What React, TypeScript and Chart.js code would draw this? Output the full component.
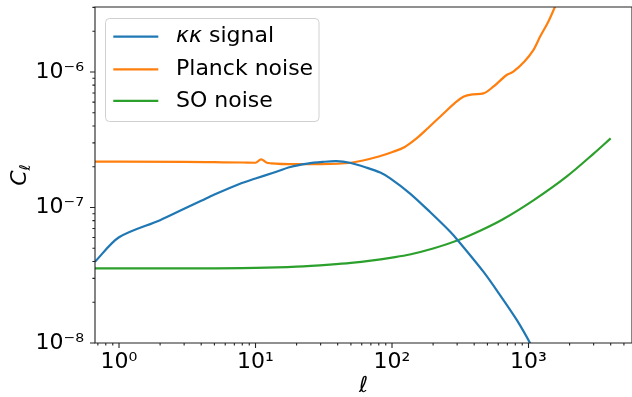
import React, { useEffect, useRef } from 'react';
import { Chart, registerables } from 'chart.js';

Chart.register(...registerables);

// ---- data ----
const seriesLabels = ['κκ signal', 'Planck noise', 'SO noise'];
const seriesColors = ['#1f77b4', '#ff7f0e', '#2ca02c'];

const ellSignal = [0.667, 1, 2, 3, 4, 5, 7.7, 10, 13.5, 18, 24, 31, 39, 49, 65, 82, 97, 135, 190, 266, 305, 467, 618, 820, 1026, 1321];
const clSignal = [3.98e-8, 6.03e-8, 8.07e-8, 9.78e-8, 1.12e-7, 1.247e-7, 1.5e-7, 1.637e-7, 1.807e-7, 1.993e-7, 2.11e-7, 2.17e-7, 2.2e-7, 2.14e-7, 1.97e-7, 1.81e-7, 1.64e-7, 1.273e-7, 9.26e-8, 6.65e-8, 5.69e-8, 3.36e-8, 2.26e-8, 1.48e-8, 1.0e-8, 6.1e-9];

const ellPlanck = [0.667, 1, 3, 5, 8, 10, 11, 12, 13, 20, 30, 50, 80, 102, 124, 152, 183, 225, 333, 394, 467, 552, 692, 774, 1085, 1214, 1396, 1563, 1800];
const clPlanck = [2.18e-7, 2.18e-7, 2.17e-7, 2.16e-7, 2.15e-7, 2.14e-7, 2.27e-7, 2.15e-7, 2.12e-7, 2.09e-7, 2.09e-7, 2.14e-7, 2.38e-7, 2.58e-7, 2.8e-7, 3.25e-7, 3.85e-7, 4.68e-7, 6.57e-7, 6.85e-7, 6.96e-7, 7.79e-7, 9.51e-7, 1.005e-6, 1.45e-6, 1.82e-6, 2.35e-6, 3.03e-6, 4.2e-6];

const ellSO = [0.667, 1, 3, 10, 20, 35, 50, 70, 100, 135, 200, 300, 450, 650, 1100, 1900, 3000, 4000];
const clSO = [3.55e-8, 3.55e-8, 3.55e-8, 3.58e-8, 3.66e-8, 3.79e-8, 3.9e-8, 4.05e-8, 4.27e-8, 4.5e-8, 4.98e-8, 5.7e-8, 6.8e-8, 8.2e-8, 1.14e-7, 1.69e-7, 2.5e-7, 3.24e-7];

// ---- axes ----
const xMin = 0.667;
const xMax = 5730;
const yMin = 1e-8;
const yMax = 3.02e-6;

const xMajorTicks = [1, 10, 100, 1000];
const xMajorLabels = ['10⁰', '10¹', '10²', '10³'];
const xMinorTicks = [0.7, 0.8, 0.9, 2, 3, 4, 5, 6, 7, 8, 9, 20, 30, 40, 50, 60, 70, 80, 90, 200, 300, 400, 500, 600, 700, 800, 900, 2000, 3000, 4000, 5000];

const yMajorTicks = [1e-8, 1e-7, 1e-6];
const yMajorLabels = ['10⁻⁸', '10⁻⁷', '10⁻⁶'];
const yMinorTicks = [2e-8, 3e-8, 4e-8, 5e-8, 6e-8, 7e-8, 8e-8, 9e-8, 2e-7, 3e-7, 4e-7, 5e-7, 6e-7, 7e-7, 8e-7, 9e-7, 2e-6, 3e-6];

const xTitle = 'ℓ';
const yTitleMain = 'C';
const yTitleSub = 'ℓ';

const FONT = 'DejaVu Sans';

const toPoints = (xs: number[], ys: number[]) => xs.map((x, i) => ({ x, y: ys[i] }));

const spinesTicksPlugin = {
  id: 'spinesTicks',
  afterDatasetsDraw(chart: any) {
    const { ctx, chartArea: a, scales } = chart;
    ctx.save();
    ctx.strokeStyle = '#222';
    ctx.lineWidth = 1.1;
    ctx.beginPath();
    ctx.rect(a.left, a.top, a.right - a.left, a.bottom - a.top);
    ctx.stroke();
    ctx.beginPath();
    const xs = scales.x;
    xs.ticks.forEach((t: any) => {
      const px = xs.getPixelForValue(t.value);
      const len = xMajorTicks.includes(t.value) ? 5 : 2.6;
      ctx.moveTo(px, a.bottom);
      ctx.lineTo(px, a.bottom + len);
    });
    const ys = scales.y;
    ys.ticks.forEach((t: any) => {
      const py = ys.getPixelForValue(t.value);
      const len = yMajorTicks.includes(t.value) ? 5 : 2.6;
      ctx.moveTo(a.left, py);
      ctx.lineTo(a.left - len, py);
    });
    ctx.stroke();

    // y-axis title: C with subscript ell
    const cy = (a.top + a.bottom) / 2;
    ctx.translate(26, cy);
    ctx.rotate(-Math.PI / 2);
    ctx.fillStyle = '#000';
    ctx.textBaseline = 'alphabetic';
    ctx.textAlign = 'left';
    ctx.font = `italic 22px "${FONT}"`;
    const wMain = ctx.measureText(yTitleMain).width;
    ctx.font = `italic 15px "${FONT}"`;
    const wSub = ctx.measureText(yTitleSub).width;
    const x0 = -(wMain + wSub) / 2;
    ctx.font = `italic 22px "${FONT}"`;
    ctx.fillText(yTitleMain, x0, 0);
    ctx.font = `italic 15px "${FONT}"`;
    ctx.fillText(yTitleSub, x0 + wMain, 4);
    ctx.restore();
  },
};

const legendPlugin = {
  id: 'mplLegend',
  afterDraw(chart: any) {
    const { ctx } = chart;
    const x0 = 105.5, y0 = 18.5, w = 213.5, h = 103, r = 4;
    ctx.save();
    ctx.beginPath();
    ctx.moveTo(x0 + r, y0);
    ctx.arcTo(x0 + w, y0, x0 + w, y0 + h, r);
    ctx.arcTo(x0 + w, y0 + h, x0, y0 + h, r);
    ctx.arcTo(x0, y0 + h, x0, y0, r);
    ctx.arcTo(x0, y0, x0 + w, y0, r);
    ctx.closePath();
    ctx.fillStyle = 'rgba(255,255,255,0.8)';
    ctx.fill();
    ctx.strokeStyle = '#d0d0d0';
    ctx.lineWidth = 1;
    ctx.stroke();
    const rows = [36.7, 69.3, 100.8];
    chart.data.datasets.forEach((ds: any, i: number) => {
      const y = rows[i];
      ctx.beginPath();
      ctx.strokeStyle = ds.borderColor;
      ctx.lineWidth = 2.2;
      ctx.moveTo(113.3, y);
      ctx.lineTo(158.3, y);
      ctx.stroke();
      ctx.fillStyle = '#000';
      ctx.textBaseline = 'middle';
      ctx.textAlign = 'left';
      let x = 176;
      const label: string = ds.label;
      const runs: { t: string; it: boolean }[] = [];
      for (const ch of label) {
        const it = /[\u0370-\u03ff]/.test(ch);
        if (runs.length && runs[runs.length - 1].it === it) runs[runs.length - 1].t += ch;
        else runs.push({ t: ch, it });
      }
      runs.forEach((run) => {
        ctx.font = `${run.it ? 'italic ' : ''}22px "${FONT}"`;
        ctx.fillText(run.t, x, y);
        x += ctx.measureText(run.t).width;
      });
    });
    ctx.restore();
  },
};

export default function App() {
  const canvasRef = useRef<HTMLCanvasElement | null>(null);

  useEffect(() => {
    const canvas = canvasRef.current;
    if (!canvas) return;
    const chart = new Chart(canvas, {
      type: 'line',
      data: {
        datasets: [
          {
            label: seriesLabels[0],
            data: toPoints(ellSignal, clSignal),
            borderColor: seriesColors[0],
            cubicInterpolationMode: 'default',
            tension: 0.3,
          },
          { label: seriesLabels[1], data: toPoints(ellPlanck, clPlanck), borderColor: seriesColors[1] },
          { label: seriesLabels[2], data: toPoints(ellSO, clSO), borderColor: seriesColors[2] },
        ] as any,
      },
      options: {
        animation: false,
        responsive: false,
        devicePixelRatio: 1,
        layout: { padding: { top: 7, right: 0, left: 0, bottom: 0 } },
        elements: {
          point: { radius: 0, hoverRadius: 0 },
          line: { borderWidth: 2.2, cubicInterpolationMode: 'monotone', fill: false, borderJoinStyle: 'round' },
        },
        datasets: { line: { clip: 0 } } as any,
        plugins: { legend: { display: false }, tooltip: { enabled: false } },
        events: [],
        scales: {
          x: {
            type: 'logarithmic',
            min: xMin,
            max: xMax,
            afterFit: (s: any) => {
              s.height = 54;
              s.paddingLeft = 0; s.paddingRight = 0; s.paddingTop = 0; s.paddingBottom = 0;
            },
            afterBuildTicks: (s: any) => {
              s.ticks = [...xMajorTicks, ...xMinorTicks].sort((a, b) => a - b).map((v) => ({ value: v }));
            },
            grid: { display: false, drawTicks: false },
            border: { display: false },
            ticks: {
              autoSkip: false,
              maxRotation: 0,
              padding: 6,
              color: '#000',
              font: { family: FONT, size: 22 },
              callback: (v: any) => {
                const i = xMajorTicks.indexOf(Number(v));
                return i >= 0 ? xMajorLabels[i] : '';
              },
            },
            title: {
              display: true,
              text: xTitle,
              color: '#000',
              font: { family: FONT, size: 22, style: 'italic', lineHeight: 1 },
              padding: { top: 0, bottom: 0 },
            },
          },
          y: {
            type: 'logarithmic',
            min: yMin,
            max: yMax,
            afterFit: (s: any) => {
              s.width = 95;
              s.paddingLeft = 0; s.paddingRight = 0; s.paddingTop = 0; s.paddingBottom = 0;
            },
            afterBuildTicks: (s: any) => {
              s.ticks = [...yMajorTicks, ...yMinorTicks].sort((a, b) => a - b).map((v) => ({ value: v }));
            },
            grid: { display: false, drawTicks: false },
            border: { display: false },
            ticks: {
              autoSkip: false,
              padding: 11,
              color: '#000',
              font: { family: FONT, size: 22 },
              callback: (v: any) => {
                const i = yMajorTicks.indexOf(Number(v));
                return i >= 0 ? yMajorLabels[i] : '';
              },
            },
            title: { display: false },
          },
        },
      },
      plugins: [spinesTicksPlugin, legendPlugin],
    });
    return () => chart.destroy();
  }, []);

  return (
    <div style={{ position: 'fixed', left: 0, top: 0, width: 632, height: 397, background: '#fff' }}>
      <canvas ref={canvasRef} width={632} height={397} style={{ display: 'block', width: 632, height: 397 }} />
    </div>
  );
}
